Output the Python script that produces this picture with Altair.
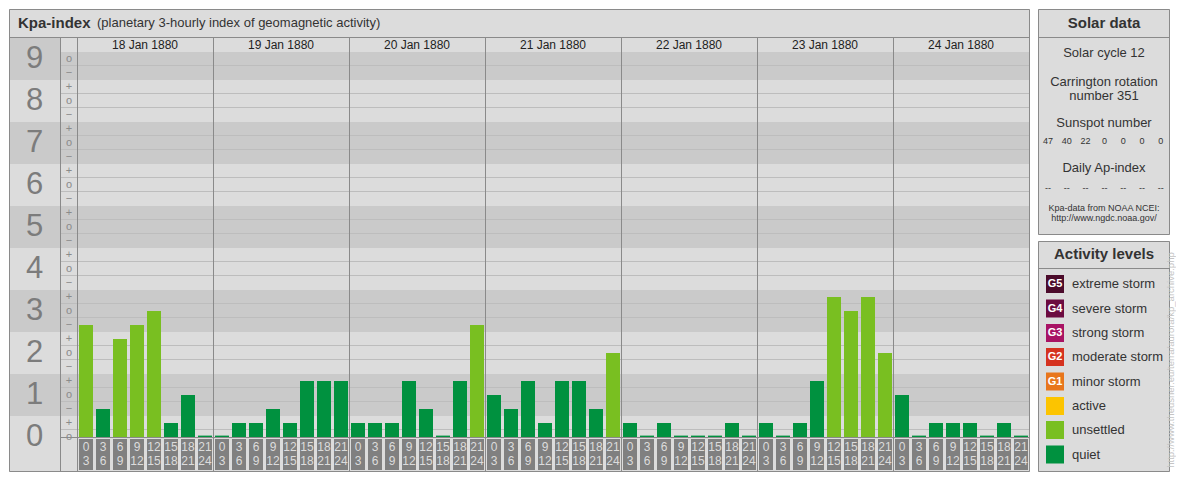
import altair as alt
import pandas as pd

# ---------------- data ----------------
days = ["18 Jan 1880", "19 Jan 1880", "20 Jan 1880", "21 Jan 1880",
        "22 Jan 1880", "23 Jan 1880", "24 Jan 1880"]
hour_starts = [0, 3, 6, 9, 12, 15, 18, 21]
hour_ends = [3, 6, 9, 12, 15, 18, 21, 24]

kp_18 = ["3-", "1-", "2+", "3-", "3o", "0+", "1o", "0o"]
kp_19 = ["0o", "0+", "0+", "1-", "0+", "1+", "1+", "1+"]
kp_20 = ["0+", "0+", "0+", "1+", "1-", "0o", "1+", "3-"]
kp_21 = ["1o", "1-", "1+", "0+", "1+", "1+", "1-", "2o"]
kp_22 = ["0+", "0o", "0+", "0o", "0o", "0o", "0+", "0o"]
kp_23 = ["0+", "0o", "0+", "1+", "3+", "3o", "3+", "2o"]
kp_24 = ["1o", "0o", "0+", "0+", "0+", "0o", "0+", "0o"]
kp_days = [kp_18, kp_19, kp_20, kp_21, kp_22, kp_23, kp_24]

sunspot_numbers = [47, 40, 22, 0, 0, 0, 0]
daily_ap = ["--", "--", "--", "--", "--", "--", "--"]
solar_cycle = 12
carrington = 351

kp_integers = [0, 1, 2, 3, 4, 5, 6, 7, 8, 9]
sub_steps = {-1: "\u2212", 0: "o", 1: "+"}

level_names = ["extreme storm", "severe storm", "strong storm", "moderate storm",
               "minor storm", "active", "unsettled", "quiet"]
level_codes = ["G5", "G4", "G3", "G2", "G1", "", "", ""]
level_colors = ["#4b0b2b", "#6c0b40", "#a81364", "#d5321f", "#e8761c",
                "#fcc400", "#79bf21", "#00913f"]
# lowest Kp (in thirds) for each level
level_min_thirds = {"quiet": 0, "unsettled": 5, "active": 11, "minor storm": 14,
                    "moderate storm": 17, "strong storm": 20, "severe storm": 23,
                    "extreme storm": 26}

FONT = "Liberation Sans"
LIGHT = "#dcdcdc"
DARK = "#cacaca"
GRID = "#bdbdbd"
BORDER = "#8a8a8a"
TXT = "#333333"

# right-hand panels geometry
RP_L, RP_R = 1030.5, 1161.5
RP_C = (RP_L + RP_R) / 2


def thirds(s):
    return int(s[0]) * 3 + {"-": -1, "o": 0, "+": 1}[s[1]]


def level_of(t):
    best = "quiet"
    for name, lo in level_min_thirds.items():
        if t >= lo and lo >= level_min_thirds[best]:
            best = name
    return best


rows = []
for d, vals in enumerate(kp_days):
    for h, v in enumerate(vals):
        t = thirds(v)
        slot = d * 8 + h
        rows.append(dict(slot=slot, x1=slot + 2 / 17, x2=slot + 16 / 17,
                         xc=slot + 9 / 17, t=max(t, 0.1), level=level_of(t),
                         h0=str(hour_starts[h]), h1=str(hour_ends[h])))
bars_df = pd.DataFrame(rows)

XS = alt.Scale(domain=[0, 56], range=[69, 1021], nice=False, zero=False)
YS = alt.Scale(domain=[0, 27], range=[429, 51], nice=False, zero=False)


# ---------------- helpers for layout pieces (pixel space) ----------------
def px_rects(recs):
    df = pd.DataFrame(recs)
    return alt.Chart(df).mark_rect(strokeWidth=1).encode(
        x=alt.X("x:Q", scale=None, axis=None), x2="x2:Q",
        y=alt.Y("y:Q", scale=None, axis=None), y2="y2:Q",
        color=alt.Color("fill:N", scale=None, legend=None),
        stroke=alt.Stroke("stroke:N", scale=None, legend=None),
    )


def px_rules(recs):
    df = pd.DataFrame(recs)
    return alt.Chart(df).mark_rule(strokeWidth=1).encode(
        x=alt.X("x:Q", scale=None, axis=None), x2="x2:Q",
        y=alt.Y("y:Q", scale=None, axis=None), y2="y2:Q",
        color=alt.Color("c:N", scale=None, legend=None),
    )


def px_text(recs, align="center", weight="normal", angle=0):
    df = pd.DataFrame(recs)
    return alt.Chart(df).mark_text(align=align, baseline="middle", font=FONT,
                                   fontWeight=weight, angle=angle).encode(
        x=alt.X("x:Q", scale=None, axis=None),
        y=alt.Y("y:Q", scale=None, axis=None),
        text="text:N",
        size=alt.Size("s:Q", scale=None, legend=None),
        color=alt.Color("c:N", scale=None, legend=None),
    )


panel_fills = px_rects([
    dict(x=1, x2=1022, y=1, y2=464, fill=LIGHT, stroke="transparent"),
    dict(x=RP_L - 0.5, x2=RP_R + 0.5, y=1, y2=227, fill=LIGHT, stroke="transparent"),
    dict(x=RP_L - 0.5, x2=RP_R + 0.5, y=233, y2=464, fill=LIGHT, stroke="transparent"),
    dict(x=2, x2=52, y=30, y2=44, fill=DARK, stroke="transparent"),
])

band_df = pd.DataFrame([dict(t1=3 * n - 1.5, t2=min(3 * n + 1.5, 27.5))
                        for n in kp_integers if n % 2 == 1])
bands = alt.Chart(band_df).mark_rect().encode(
    y=alt.Y("t1:Q", scale=YS, axis=None), y2="t2:Q",
    x=alt.value(2), x2=alt.value(1021), color=alt.value(DARK))

grid_t = []
for n in kp_integers:
    for g in (3 * n - 0.5, 3 * n + 0.5):
        if 0.5 <= g <= 26.5:
            grid_t.append(g)
grid = alt.Chart(pd.DataFrame({"t": grid_t})).mark_rule(
    strokeWidth=1, yOffset=-0.5).encode(
    y=alt.Y("t:Q", scale=YS, axis=None),
    x=alt.value(52), x2=alt.value(1021), color=alt.value(GRID))

baseline = alt.Chart(pd.DataFrame({"t": [0]})).mark_rule(
    strokeWidth=1, yOffset=0.5).encode(
    y=alt.Y("t:Q", scale=YS, axis=None),
    x=alt.value(52), x2=alt.value(1021), color=alt.value(BORDER))

frame_lines = px_rules([
    dict(x=1.5, x2=1021.5, y=29.5, y2=29.5, c=BORDER),
    dict(x=52.5, x2=52.5, y=29.5, y2=463.5, c=BORDER),
    dict(x=69.5, x2=69.5, y=29.5, y2=463.5, c=BORDER),
    dict(x=RP_L, x2=RP_R, y=29.5, y2=29.5, c=BORDER),
    dict(x=RP_L, x2=RP_R, y=260.5, y2=260.5, c=BORDER),
])

panel_borders = px_rects([
    dict(x=1.5, x2=1021.5, y=1.5, y2=463.5, fill="transparent", stroke=BORDER),
    dict(x=RP_L, x2=RP_R, y=1.5, y2=226.5, fill="transparent", stroke=BORDER),
    dict(x=RP_L, x2=RP_R, y=233.5, y2=463.5, fill="transparent", stroke=BORDER),
])

day_lines = alt.Chart(pd.DataFrame({"slot": [8 * k for k in range(1, 7)]})).mark_rule(
    strokeWidth=1, xOffset=0.5).encode(
    x=alt.X("slot:Q", scale=XS, axis=None),
    y=alt.value(30), y2=alt.value(463), color=alt.value(BORDER))

bars = alt.Chart(bars_df).mark_rect().encode(
    x=alt.X("x1:Q", scale=XS, axis=None), x2="x2:Q",
    y=alt.Y("t:Q", scale=YS, axis=None), y2=alt.datum(0),
    color=alt.Color("level:N", scale=alt.Scale(domain=level_names, range=level_colors),
                    legend=None))

boxes = alt.Chart(bars_df).mark_rect().encode(
    x=alt.X("x1:Q", scale=XS, axis=None), x2="x2:Q",
    y=alt.value(431), y2=alt.value(462), color=alt.value("#808080"))

hour_top = alt.Chart(bars_df).mark_text(font=FONT, fontSize=12, baseline="middle",
                                        color="#dcdcdc").encode(
    x=alt.X("xc:Q", scale=XS, axis=None), y=alt.value(439), text="h0:N")
hour_bot = alt.Chart(bars_df).mark_text(font=FONT, fontSize=12, baseline="middle",
                                        color="#dcdcdc").encode(
    x=alt.X("xc:Q", scale=XS, axis=None), y=alt.value(453), text="h1:N")

date_df = pd.DataFrame({"day": days, "xc": [8 * i + 4 for i in range(len(days))]})
dates = alt.Chart(date_df).mark_text(font=FONT, fontSize=12, baseline="middle",
                                     color="#222222").encode(
    x=alt.X("xc:Q", scale=XS, axis=None), y=alt.value(37), text="day:N")

big_df = pd.DataFrame({"t": [3 * n for n in kp_integers],
                       "lab": [str(n) for n in kp_integers]})
big_nums = alt.Chart(big_df).mark_text(font=FONT, fontSize=31, baseline="middle",
                                       color="#7c7c7c").encode(
    y=alt.Y("t:Q", scale=YS, axis=None), x=alt.value(26.5), text="lab:N")

sub_rows = []
for n in kp_integers:
    for k in (-1, 0, 1):
        t = 3 * n + k
        if 0 <= t <= 27:
            sub_rows.append(dict(t=t, lab=sub_steps[k]))
sub_labels = alt.Chart(pd.DataFrame(sub_rows)).mark_text(
    font=FONT, fontSize=11, baseline="middle", color="#8a8a8a").encode(
    y=alt.Y("t:Q", scale=YS, axis=None), x=alt.value(61), text="lab:N")

titles_bold = px_text([
    dict(x=10, y=15, text="Kpa-index", s=15, c=TXT),
], align="left", weight="bold")
titles_bold_c = px_text([
    dict(x=RP_C, y=15, text="Solar data", s=15, c=TXT),
    dict(x=RP_C, y=246, text="Activity levels", s=15, c=TXT),
], weight="bold")
subtitle = px_text([
    dict(x=89, y=15, text="(planetary 3-hourly index of geomagnetic activity)", s=13, c=TXT),
], align="left")

solar_recs = [
    dict(x=RP_C, y=45, text=f"Solar cycle {solar_cycle}", s=13, c=TXT),
    dict(x=RP_C, y=74, text="Carrington rotation", s=13, c=TXT),
    dict(x=RP_C, y=88, text=f"number {carrington}", s=13, c=TXT),
    dict(x=RP_C, y=115, text="Sunspot number", s=13, c=TXT),
    dict(x=RP_C, y=160, text="Daily Ap-index", s=13, c=TXT),
    dict(x=RP_C, y=200, text="Kpa-data from NOAA NCEI:", s=9, c=TXT),
    dict(x=RP_C, y=210, text="http://www.ngdc.noaa.gov/", s=9, c=TXT),
]
for i, v in enumerate(sunspot_numbers):
    solar_recs.append(dict(x=1040 + 18.8 * i, y=133, text=str(v), s=9, c=TXT))
for i, v in enumerate(daily_ap):
    solar_recs.append(dict(x=1040 + 18.8 * i, y=180, text=v, s=9, c=TXT))
solar_text = px_text(solar_recs)

leg_y = [276, 300.5, 325, 349, 373.5, 398, 422, 446.5]
legend_sw = px_rects([dict(x=1038, x2=1056, y=y - 9, y2=y + 9, fill=c, stroke="transparent")
                      for y, c in zip(leg_y, level_colors)])
legend_codes = px_text([dict(x=1047, y=y, text=code, s=11, c="#ffffff")
                        for y, code in zip(leg_y, level_codes) if code], weight="bold")
legend_labels = px_text([dict(x=1064, y=y, text=name, s=13, c=TXT)
                         for y, name in zip(leg_y, level_names)], align="left")

url_text = px_text([dict(x=1163, y=352,
                         text="http://www.theusner.eu/terra/aurora/kp_archive.php",
                         s=9.5, c="#c4c4c4")], angle=270)

chart = alt.layer(
    panel_fills, bands, grid, frame_lines, day_lines, baseline,
    bars, boxes, hour_top, hour_bot, dates, big_nums, sub_labels,
    panel_borders, titles_bold, titles_bold_c, subtitle, solar_text,
    legend_sw, legend_codes, legend_labels, url_text,
).resolve_scale(
    x="independent", y="independent", color="independent",
    stroke="independent", size="independent"
).properties(
    width=1168, height=464, padding=0, autosize=alt.AutoSizeParams(type="none"),
    background="white",
).configure_view(stroke=None)

chart.save("out.html", embed_options={"renderer": "svg", "actions": False})
